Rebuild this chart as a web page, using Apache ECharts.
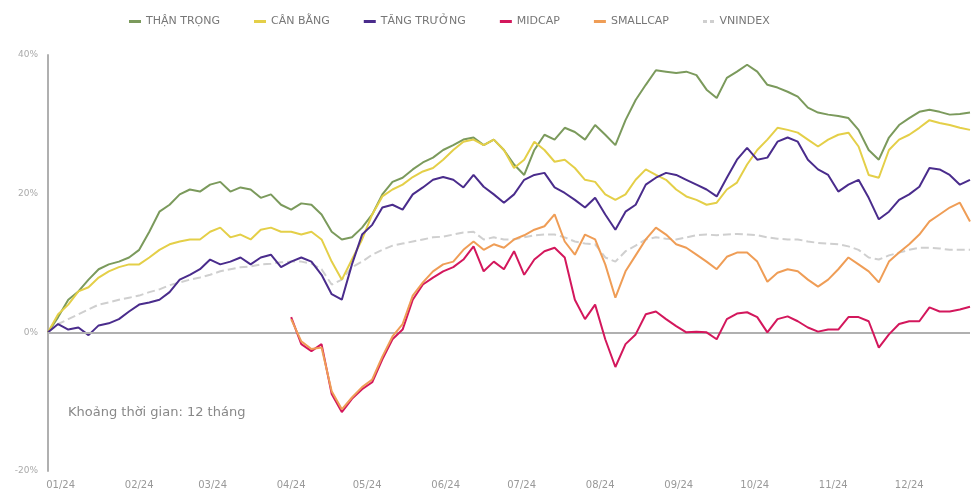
<!DOCTYPE html>
<html><head><meta charset="utf-8">
<script src="https://cdn.jsdelivr.net/npm/echarts@6/dist/echarts.min.js"></script>
<style>html,body{margin:0;padding:0;background:#fff}#c{width:973px;height:495px}</style>
</head><body><div id="c"></div>
<script>
const seriesNames = ['THẬN TRỌNG','CÂN BẰNG','TĂNG TRƯỞNG','MIDCAP','SMALLCAP','VNINDEX'];
const yTicks = [-20, 0, 20, 40];
const dates = ['2023-12-27','2023-12-31','2024-01-04','2024-01-08','2024-01-12','2024-01-16','2024-01-20','2024-01-24','2024-01-28','2024-02-01',
'2024-02-05','2024-02-09','2024-02-13','2024-02-17','2024-02-21','2024-02-25','2024-02-29','2024-03-04','2024-03-08','2024-03-12',
'2024-03-16','2024-03-20','2024-03-24','2024-03-28','2024-04-01','2024-04-05','2024-04-09','2024-04-13','2024-04-17','2024-04-21',
'2024-04-25','2024-04-29','2024-05-03','2024-05-07','2024-05-11','2024-05-15','2024-05-19','2024-05-23','2024-05-27','2024-05-31',
'2024-06-04','2024-06-08','2024-06-12','2024-06-16','2024-06-20','2024-06-24','2024-06-28','2024-07-02','2024-07-06','2024-07-10',
'2024-07-14','2024-07-18','2024-07-22','2024-07-26','2024-07-30','2024-08-03','2024-08-07','2024-08-11','2024-08-15','2024-08-19',
'2024-08-23','2024-08-27','2024-08-31','2024-09-04','2024-09-08','2024-09-12','2024-09-16','2024-09-20','2024-09-24','2024-09-28',
'2024-10-02','2024-10-06','2024-10-10','2024-10-14','2024-10-18','2024-10-22','2024-10-26','2024-10-30','2024-11-03','2024-11-07',
'2024-11-11','2024-11-15','2024-11-19','2024-11-23','2024-11-27','2024-12-01','2024-12-05','2024-12-09','2024-12-13','2024-12-17',
'2024-12-21','2024-12-25'];
const thanTrong = [0,2.2,4.7,5.9,7.6,9.1,9.8,10.2,10.8,11.9,
14.5,17.4,18.4,19.9,20.6,20.3,21.3,21.7,20.3,20.9,
20.6,19.4,19.9,18.4,17.7,18.6,18.4,17.0,14.5,13.4,
13.7,15.1,17.0,19.9,21.7,22.3,23.5,24.5,25.2,26.3,
27.0,27.8,28.1,27.0,27.8,26.3,24.2,22.7,26.3,28.5,
27.8,29.5,28.9,27.8,29.9,28.5,27.0,30.6,33.5,35.7,
37.8,37.6,37.4,37.6,37.1,35.0,33.8,36.7,37.6,38.6,
37.6,35.7,35.3,34.7,34.0,32.4,31.7,31.4,31.2,30.9,
29.2,26.3,24.9,28.1,29.9,30.9,31.8,32.1,31.8,31.4,
31.5,31.7];
const canBang = [0,2.6,4.0,5.9,6.5,7.9,8.8,9.4,9.8,9.8,
10.8,11.9,12.7,13.1,13.4,13.4,14.5,15.1,13.7,14.1,
13.4,14.8,15.1,14.5,14.5,14.1,14.5,13.4,10.2,7.6,
10.5,13.4,17.0,19.6,20.6,21.3,22.4,23.2,23.7,24.9,
26.3,27.5,27.8,27.0,27.8,26.3,23.7,24.9,27.5,26.3,
24.6,24.9,23.7,22.0,21.7,19.9,19.1,19.9,22.0,23.5,
22.7,22.0,20.6,19.6,19.1,18.4,18.7,20.6,21.6,24.2,
26.3,27.8,29.5,29.2,28.8,27.8,26.8,27.8,28.5,28.8,
26.8,22.7,22.3,26.3,27.8,28.5,29.5,30.6,30.2,29.9,
29.5,29.2];
const tangTruong = [0,1.2,0.4,0.7,-0.4,1.0,1.3,1.9,3.0,4.0,
4.3,4.7,5.8,7.6,8.3,9.1,10.5,9.8,10.2,10.8,
9.8,10.8,11.2,9.4,10.2,10.8,10.2,8.3,5.5,4.7,
9.8,14.1,15.5,18.0,18.4,17.7,19.9,20.9,22.0,22.4,
22.0,20.9,22.7,21.0,19.9,18.7,19.9,22.0,22.7,23.0,
20.9,20.1,19.1,18.0,19.4,17.0,14.8,17.4,18.4,21.3,
22.3,23.0,22.7,22.0,21.3,20.6,19.6,22.3,24.9,26.6,
24.9,25.2,27.5,28.1,27.5,24.9,23.5,22.7,20.3,21.3,
22.0,19.4,16.3,17.4,19.1,19.9,21.0,23.7,23.5,22.7,
21.3,22.0];
const midcap = [null,null,null,null,null,null,null,null,null,null,
null,null,null,null,null,null,null,null,null,null,
null,null,null,null,2.2,-1.7,-2.7,-1.7,-8.9,-11.5,
-9.6,-8.2,-7.2,-3.9,-1.0,0.4,4.7,6.9,7.9,8.8,
9.4,10.5,12.4,8.8,10.2,9.1,11.7,8.3,10.5,11.7,
12.2,10.8,4.7,1.9,4.0,-1.0,-5.0,-1.7,-0.3,2.6,
3.0,1.9,0.9,0,0.1,0,-1.0,1.9,2.7,2.9,
2.2,0,1.9,2.3,1.6,0.7,0.1,0.4,0.4,2.2,
2.2,1.6,-2.2,-0.3,1.2,1.6,1.6,3.6,3.0,3.0,
3.3,3.7];
const smallcap = [null,null,null,null,null,null,null,null,null,null,
null,null,null,null,null,null,null,null,null,null,
null,null,null,null,1.9,-1.3,-2.4,-2.2,-8.5,-11.1,
-9.4,-7.9,-6.8,-3.5,-0.6,1.2,5.3,7.2,8.8,9.8,
10.2,11.9,13.1,11.9,12.7,12.2,13.4,14.0,14.8,15.3,
17.0,13.1,11.2,14.1,13.4,9.8,5.0,8.8,11.1,13.4,
15.1,14.1,12.7,12.2,11.2,10.2,9.1,10.9,11.5,11.5,
10.2,7.3,8.6,9.1,8.8,7.6,6.6,7.6,9.1,10.8,
9.8,8.8,7.2,10.2,11.5,12.7,14.1,16.0,17.0,18.0,
18.7,16.0];
const vnindex = [0,1.2,1.9,2.6,3.3,4.0,4.3,4.7,5.0,5.3,
5.8,6.2,6.8,7.2,7.6,7.9,8.3,8.8,9.1,9.4,
9.5,9.8,9.9,10.1,10.2,10.2,9.9,9.1,6.9,7.6,
9.4,10.2,11.2,11.9,12.5,12.8,13.1,13.4,13.7,13.8,
14.1,14.4,14.5,13.4,13.7,13.4,13.4,13.7,14.0,14.1,
14.1,13.7,13.1,12.8,12.7,10.8,10.2,11.7,12.5,13.4,
13.7,13.5,13.4,13.7,14.0,14.1,14.0,14.1,14.2,14.1,
14.0,13.7,13.5,13.4,13.4,13.1,12.9,12.8,12.7,12.4,
11.9,10.8,10.5,11.1,11.5,11.9,12.2,12.2,12.1,11.9,
11.9,11.9];
const noteText = 'Khoảng thời gian: 12 tháng';

const colors = ['#7b9a5c','#e4cf48','#4a2c8c','#d3175c','#ef9d56','#cfcfcf'];
const allValues = [thanTrong, canBang, tangTruong, midcap, smallcap, vnindex];
function pairs(vals){ return dates.map((d,i)=>[d, vals[i]==null ? '-' : vals[i]]); }

const FONT = '"DejaVu Sans", sans-serif';
const chart = echarts.init(document.getElementById('c'), null, {renderer:'canvas'});
const series = seriesNames.map((n,k)=>({
  name:n, type:'line', data:pairs(allValues[k]), symbol:'none', showSymbol:false,
  lineStyle:{width:2, color:colors[k], type: k===5 ? 'dashed':'solid'},
  itemStyle:{color:colors[k]}, z: k===5 ? 1 : 2+k,
  animation:false
}));
series[0].markLine = {silent:true, symbol:'none', label:{show:false},
  lineStyle:{color:'#b0b0b0', width:2, type:'solid'}, data:[{yAxis:0}], animation:false};

const legendData = seriesNames.map((n,k)=>({name:n,
  icon: k===5 ? 'path://M0,0h4v3h-4zM7,0h4v3h-4z' : 'rect'}));

chart.setOption({
  animation:false,
  textStyle:{fontFamily:FONT},
  color: colors,
  legend:{top:11, left:124, itemWidth:12, itemHeight:3, itemGap:34,
    textStyle:{fontSize:11, color:'#777', fontFamily:FONT}, data:legendData},
  grid:{left:48, right:3, top:55, bottom:24, containLabel:false},
  xAxis:{type:'time', min:dates[0], max:dates[dates.length-1],
    minInterval:28*86400000, maxInterval:31*86400000,
    axisLine:{show:false}, axisTick:{show:false}, splitLine:{show:false},
    axisLabel:{color:'#999', fontSize:10, margin:9, showMinLabel:false, showMaxLabel:false, fontFamily:FONT,
      formatter:function(v){const d=new Date(v);const m=d.getMonth()+1;return (m<10?'0'+m:m)+'/'+String(d.getFullYear()).slice(2);}}
  },
  yAxis:{type:'value', min:yTicks[0], max:yTicks[yTicks.length-1], interval:20,
    axisLine:{show:true, lineStyle:{color:'#b0b0b0', width:2}}, axisTick:{show:false},
    splitLine:{show:false},
    axisLabel:{color:'#aaa', fontSize:9, margin:10, formatter:'{value}%', fontFamily:FONT}},
  graphic:[{type:'text', left:68, top:406, style:{text:noteText, fontSize:13, fill:'#888', fontFamily:FONT}}],
  series: series
});
</script></body></html>
